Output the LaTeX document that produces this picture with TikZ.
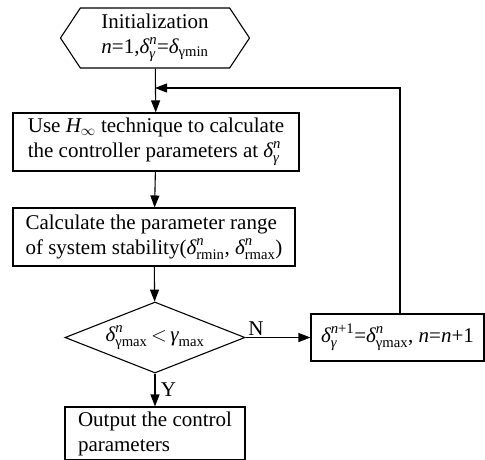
\documentclass[tikz,border=0pt]{standalone}
\usepackage{amsmath}
\usepackage{fontspec}
\setmainfont{Liberation Serif}
\usetikzlibrary{arrows.meta,shapes.geometric,shapes.symbols}

\newcommand{\dl}[2]{\text{\itshape δ}^{#1}_{\text{#2}}}

\begin{document}
\begin{tikzpicture}[x=1pt,y=-1pt,line width=1.1pt,
  every node/.style={font=\fontsize{21}{25}\selectfont},
  box/.style={draw,rectangle,inner sep=0pt,align=left},
  hexa/.style={draw,signal,signal to=west and east,signal pointer angle=113,
    inner sep=0pt,align=center,minimum width=189pt,minimum height=60pt},
  decide/.style={draw,diamond,aspect=2.5,inner sep=0pt,
    minimum width=180pt,minimum height=71pt},
  arr/.style={-{Triangle[length=12pt,width=9pt]}}]
\useasboundingbox (0,0) rectangle (485,459);

\node[hexa] (init) at (155,38) {Initialization\\
  {\itshape n}=1,$\dl{\text{\itshape n}}{\itshape γ}$=$\text{\itshape δ}_{\text{γmin}}$};
\node[box,minimum width=286pt,minimum height=58pt] (calc) at (156,142)
  {Use {\itshape H}$_\infty$ technique to calculate\\
   the controller parameters at $\dl{\text{\itshape n}}{\itshape γ}$};
\node[box,minimum width=282pt,minimum height=58pt] (range) at (154,237)
  {Calculate the parameter range\\
   of system stability($\dl{\text{\itshape n}}{rmin}$, $\dl{\text{\itshape n}}{rmax}$)};
\node[decide] (cond) at (155,337.5)
  {$\dl{\text{\itshape n}}{γmax}$\,$<$\,$\text{\itshape γ}_{\text{max}}$};
\node[box,align=center,minimum width=173pt,minimum height=47pt] (upd) at (397.5,337.5)
  {$\dl{\text{\itshape n}\text{+1}}{\itshape γ}$=$\dl{\text{\itshape n}}{γmax}$, {\itshape n}={\itshape n}+1};
\node[box,minimum width=180pt,minimum height=53pt] (out) at (155,433.5)
  {Output the control\\parameters};

\coordinate (loop) at (400,88);
\coordinate (join) at (155,88);

\draw[arr] (init) -- (calc);
\draw[arr] (calc) -- (range);
\draw[arr] (range) -- (cond);
\draw[arr] (cond) -- node[anchor=south west,inner sep=1pt,pos=0.02] (nlab) {N} (upd);
\draw[arr] (cond) -- node[right=2pt] (ylab) {Y} (out);
\draw[arr] (loop |- upd.north) -- (loop) -- (join);

\end{tikzpicture}
\end{document}
